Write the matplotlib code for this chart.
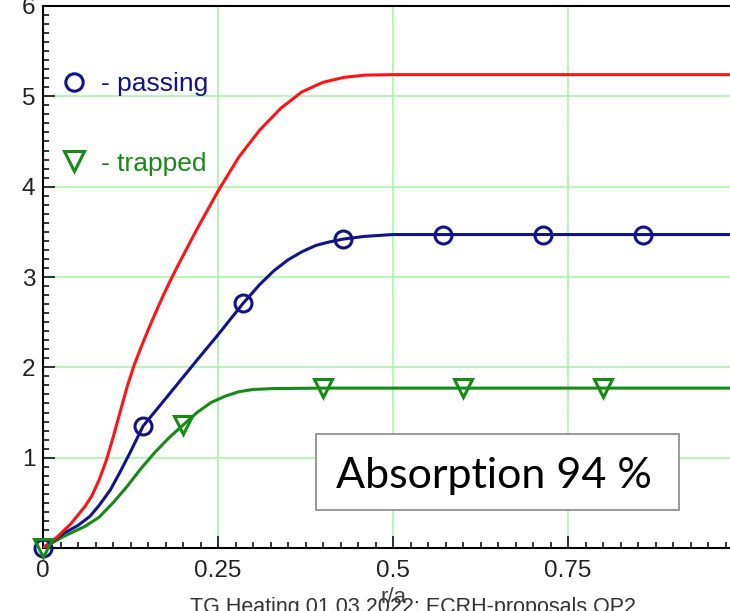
import numpy as np
import matplotlib
matplotlib.use("Agg")
import matplotlib.pyplot as plt
from matplotlib.lines import Line2D
from matplotlib.patches import Rectangle
from matplotlib.ticker import MultipleLocator, FixedLocator, FuncFormatter

plt.rcParams['font.family'] = ['Liberation Sans', 'DejaVu Sans']

# deposition profiles vs r/a (total, passing, trapped)
r_total = [0.0, 0.02, 0.04, 0.06, 0.07, 0.08, 0.09, 0.10, 0.11, 0.12, 0.13, 0.14,
           0.15, 0.16, 0.17, 0.18, 0.19, 0.20, 0.22, 0.25, 0.28, 0.31, 0.34, 0.37,
           0.40, 0.43, 0.46, 0.50, 0.60, 1.0]
p_total = [0.0, 0.12, 0.27, 0.46, 0.58, 0.75, 0.96, 1.22, 1.50, 1.78, 2.02, 2.22,
           2.41, 2.59, 2.765, 2.93, 3.085, 3.235, 3.53, 3.95, 4.33, 4.63, 4.87, 5.05,
           5.155, 5.21, 5.235, 5.24, 5.24, 5.24]

r_pass = [0.0, 0.029, 0.05, 0.067, 0.08, 0.096, 0.11, 0.124, 0.143, 0.18, 0.22,
          0.25, 0.286, 0.31, 0.33, 0.35, 0.37, 0.39, 0.41, 0.429, 0.46, 0.50, 0.571, 1.0]
p_pass = [0.0, 0.16, 0.25, 0.35, 0.47, 0.64, 0.84, 1.05, 1.35, 1.70, 2.08,
          2.36, 2.71, 2.92, 3.07, 3.19, 3.28, 3.35, 3.39, 3.42, 3.45, 3.47, 3.47, 3.47]

r_trap = [0.0, 0.03, 0.06, 0.08, 0.10, 0.12, 0.14, 0.16, 0.18, 0.20, 0.22,
          0.24, 0.26, 0.28, 0.30, 0.33, 0.40, 1.0]
p_trap = [0.0, 0.13, 0.24, 0.34, 0.50, 0.68, 0.88, 1.06, 1.22, 1.36, 1.50,
          1.61, 1.68, 1.73, 1.755, 1.765, 1.77, 1.77]

# symbols
r_pass_sym = [0.0, 0.143, 0.286, 0.429, 0.571, 0.714, 0.857]
p_pass_sym = [0.0, 1.35, 2.71, 3.42, 3.47, 3.47, 3.47]
r_trap_sym = [0.0, 0.2, 0.4, 0.6, 0.8]
p_trap_sym = [0.0, 1.36, 1.77, 1.77, 1.77]

x_ticks = [0, 0.25, 0.5, 0.75, 1.0]
x_ticklabels = ['0', '0.25', '0.5', '0.75', '']
y_ticks = [0, 1, 2, 3, 4, 5, 6]
y_ticklabels = ['', '1', '2', '3', '4', '5', '6']

absorption = 94

c_red = '#ff1414'
c_blue = '#12128c'
c_green = '#148c14'
c_grid = '#a4f2a4'

fig = plt.figure(figsize=(7.3, 6.11), dpi=100)
ax = fig.add_axes([43/730, 63/611, 700/730, 542/611])
ax.set_xlim(0, 1)
ax.set_ylim(0, 6)

ax.xaxis.set_major_locator(FixedLocator(x_ticks))
ax.xaxis.set_major_formatter(FuncFormatter(lambda v, p: x_ticklabels[p] if p is not None and p < len(x_ticklabels) else ''))
ax.yaxis.set_major_locator(FixedLocator(y_ticks))
ax.yaxis.set_major_formatter(FuncFormatter(lambda v, p: y_ticklabels[p] if p is not None and p < len(y_ticklabels) else ''))
ax.xaxis.set_minor_locator(MultipleLocator(0.025))
ax.yaxis.set_minor_locator(MultipleLocator(0.1))
ax.tick_params(which='both', direction='in', top=False, right=False, width=1.1, color='black')
ax.tick_params(which='major', length=8.6, labelsize=17.5, labelcolor='#222222')
ax.tick_params(which='minor', length=4.3)
ax.tick_params(axis='x', which='major', pad=8.5)
ax.tick_params(axis='y', which='major', pad=5.5)

for s in ['left', 'top', 'bottom']:
    ax.spines[s].set_linewidth(1.5)
    ax.spines[s].set_color('black')
ax.spines['right'].set_visible(False)

ax.grid(True, which='major', color=c_grid, lw=1.1)
ax.set_axisbelow(True)

ax.plot(r_trap, p_trap, color=c_green, lw=2.2, zorder=3)
ax.plot(r_pass, p_pass, color=c_blue, lw=2.2, zorder=3)
ax.plot(r_total, p_total, color=c_red, lw=2.2, zorder=3)

ax.plot(r_pass_sym, p_pass_sym, ls='none', marker='o', ms=12.2, mfc='none',
        mec=c_blue, mew=2.2, zorder=4, clip_on=False)
ax.plot(r_trap_sym, p_trap_sym, ls='none', marker='v', ms=12.5, mfc='none',
        mec=c_green, mew=2.2, zorder=5, clip_on=False)

handles = [Line2D([], [], ls='none', marker='o', ms=12.5, mfc='none', mec=c_blue, mew=2.2),
           Line2D([], [], ls='none', marker='v', ms=14, mfc='none', mec=c_green, mew=2.2)]
ax.legend(handles, ['- passing', '- trapped'], loc='upper left',
          bbox_to_anchor=(0.026, 0.878), frameon=False, fontsize=19,
          labelcolor=[c_blue, c_green], handlelength=1.0, handletextpad=0.5,
          labelspacing=2.1, borderpad=0, borderaxespad=0)

ax.add_patch(Rectangle((0.39, 0.0702), 0.5186, 0.1405, transform=ax.transAxes,
                       facecolor='white', edgecolor='#888888', lw=1.2, zorder=6))
ax.text(0.644, 0.111, f'Absorption {absorption} %', transform=ax.transAxes,
        ha='center', va='baseline', fontsize=31, family=['Lato', 'DejaVu Sans'],
        color='black', zorder=7)

ax.set_xlabel('r/a', fontsize=16, color='#444444', labelpad=4)
fig.text(190/730, 14/611, 'TG Heating 01.03.2022: ECRH-proposals OP2', ha='left', va='top',
         fontsize=15.5, color='#333333')

fig.savefig('out.png', dpi=100)
